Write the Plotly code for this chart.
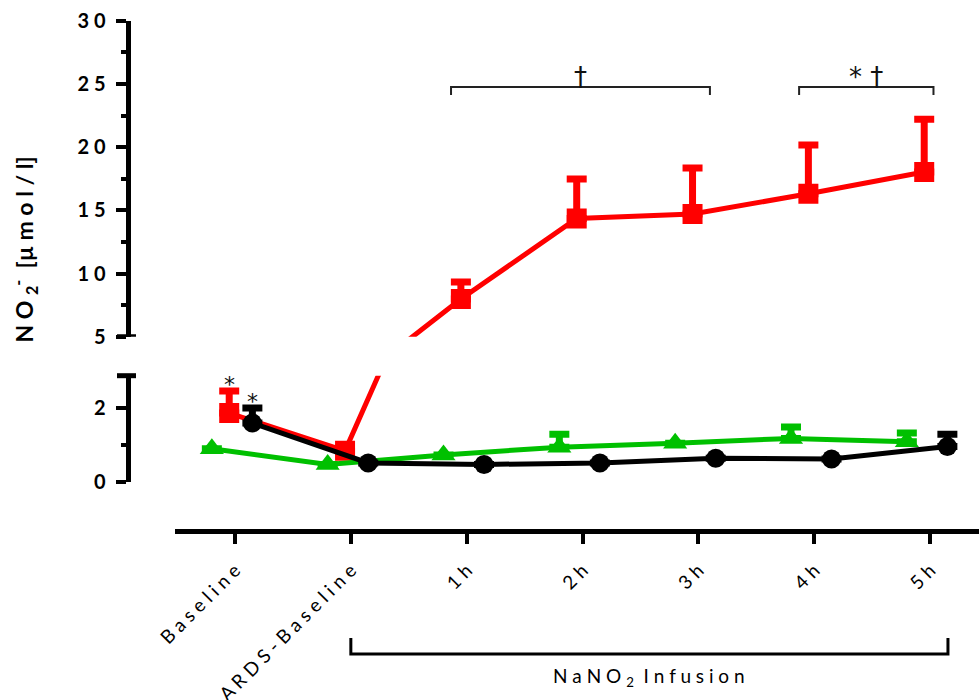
import plotly.graph_objects as go

# ---- data -------------------------------------------------------------
categories = ["Baseline", "ARDS-Baseline", "1h", "2h", "3h", "4h", "5h"]

# plasma nitrite, mean and upper error (µmol/l)
red_mean = [1.87, 0.84, 7.98, 14.35, 14.71, 16.31, 18.03]
red_err = [0.60, 0.0, 1.35, 3.12, 3.64, 3.86, 4.17]

green_mean = [0.90, 0.47, 0.73, 0.94, 1.05, 1.18, 1.09]
green_err = [0.0, 0.0, 0.0, 0.35, 0.0, 0.31, 0.24]

black_mean = [1.60, 0.51, 0.47, 0.51, 0.64, 0.62, 0.96]
black_err = [0.41, 0.0, 0.0, 0.0, 0.0, 0.0, 0.33]

upper_ticks = [5, 10, 15, 20, 25, 30]
lower_ticks = [0, 2]

# ---- styling ----------------------------------------------------------
W, H = 979, 700
FONT = "Lato"
RED, GREEN, BLACK = "#ff0000", "#00c000", "#000000"


def spaced(s):
    return " ".join(s)


def px_x(p):
    return p / W


def px_y(p):
    return 1 - p / H


series = [
    dict(mean=red_mean, err=red_err, color=RED, symbol="square", size=20, shift=-0.05),
    dict(mean=green_mean, err=green_err, color=GREEN, symbol="triangle-up", size=21, shift=-0.20),
    dict(mean=black_mean, err=black_err, color=BLACK, symbol="circle", size=19, shift=0.15),
]

fig = go.Figure()
for yref in ("y", "y2"):
    for s in series:
        xs = [i + s["shift"] for i in range(len(categories))]
        fig.add_trace(go.Scatter(
            x=xs, y=s["mean"], yaxis=yref, mode="lines+markers",
            line=dict(color=s["color"], width=5),
            marker=dict(symbol=s["symbol"], size=s["size"], color=s["color"], line=dict(width=0)),
            error_y=dict(type="data", array=s["err"], arrayminus=[0] * len(s["err"]),
                         symmetric=False, color=s["color"], thickness=7, width=10),
            showlegend=False, hoverinfo="skip",
        ))

axis_common = dict(showline=True, linecolor="black", linewidth=5, ticks="outside",
                   ticklen=10, tickwidth=4, tickcolor="black", showgrid=False,
                   zeroline=False, anchor="free", position=px_x(127.5), automargin=False,
                   tickfont=dict(family=FONT, size=20, color="black", weight="bold"),
                   ticklabelstandoff=6)

fig.update_layout(
    width=W, height=H, margin=dict(l=0, r=0, t=0, b=0, autoexpand=False),
    plot_bgcolor="white", paper_bgcolor="white", showlegend=False,
    xaxis=dict(domain=[px_x(175), 1], range=[-0.518, 6.423], anchor="free",
               position=px_y(531), showline=True, linecolor="black", linewidth=5,
               ticks="outside", ticklen=10, tickwidth=4, tickcolor="black",
               tickmode="array", tickvals=list(range(len(categories))),
               ticktext=[spaced(c) for c in categories], tickangle=-45,
               tickfont=dict(family=FONT, size=19, color="black"), automargin=False,
               showgrid=False, zeroline=False, ticklabelstandoff=8),
    yaxis=dict(domain=[px_y(481.7), px_y(375.7)], range=[0, 2.888],
               tickmode="array", tickvals=lower_ticks,
               ticktext=[spaced(str(t)) for t in lower_ticks],
               minor=dict(tickmode="array", tickvals=[1], ticklen=5, tickwidth=4,
                          tickcolor="black", ticks="outside"),
               **axis_common),
    yaxis2=dict(domain=[px_y(336.7), px_y(20.7)], range=[5, 30],
                tickmode="array", tickvals=upper_ticks,
                ticktext=[spaced(str(t)) for t in upper_ticks],
                minor=dict(tickmode="array", tickvals=[7.5, 12.5, 17.5, 22.5, 27.5],
                           ticklen=5, tickwidth=4, tickcolor="black", ticks="outside"),
                **axis_common),
)

# caps at the axis break
fig.add_shape(type="line", xref="paper", yref="y2", x0=px_x(117), x1=px_x(136),
              y0=5, y1=5, line=dict(color="black", width=5))
fig.add_shape(type="line", xref="paper", yref="paper", x0=px_x(117), x1=px_x(136),
              y0=px_y(375.7), y1=px_y(375.7), line=dict(color="black", width=5))


def bracket(x0, x1, y_top, y_end, width, color):
    fig.add_shape(type="path", xref="x", yref="paper",
                  path=f"M {x0},{y_end} L {x0},{y_top} L {x1},{y_top} L {x1},{y_end}",
                  line=dict(color=color, width=width))


# significance brackets over the infusion period
bracket(1.865, 4.10, px_y(87), px_y(95), 2, "#222")
bracket(4.87, 6.03, px_y(87), px_y(95), 2, "#222")
sig_font = dict(family="DejaVu Sans", size=26, color="#111")
fig.add_annotation(x=(1.865 + 4.10) / 2, y=px_y(60), xref="x", yref="paper",
                   text="†", showarrow=False, font=sig_font)
fig.add_annotation(x=(4.87 + 6.03) / 2, y=px_y(60), xref="x", yref="paper",
                   text="* †", showarrow=False, font=sig_font)

# infusion bracket under the axis
bracket(1.0, 6.155, px_y(654), px_y(638), 3, "black")
fig.add_annotation(x=(1.0 + 6.155) / 2, y=px_y(692), xref="x", yref="paper",
                   text=spaced("NaNO") + " <sub>2</sub>  " + spaced("Infusion"),
                   showarrow=False, font=dict(family=FONT, size=19, color="black"))

# asterisks above baseline error bars
for s, mean, err in ((series[0], red_mean, red_err), (series[2], black_mean, black_err)):
    fig.add_annotation(x=0 + s["shift"], y=mean[0] + err[0], xref="x", yref="y",
                       text="*", showarrow=False, yanchor="bottom", yshift=-8,
                       font=dict(family="DejaVu Sans", size=22, color="#111"))

# y-axis title
fig.add_annotation(x=px_x(5), y=px_y(250), xref="paper", yref="paper",
                   text="<b>" + spaced("NO") + " <sub>2</sub><sup>-</sup>  [" + spaced("µmol/l") + "]</b>",
                   textangle=-90, showarrow=False,
                   font=dict(family=FONT, size=23, color="black"))

fig.write_html("out.html")
